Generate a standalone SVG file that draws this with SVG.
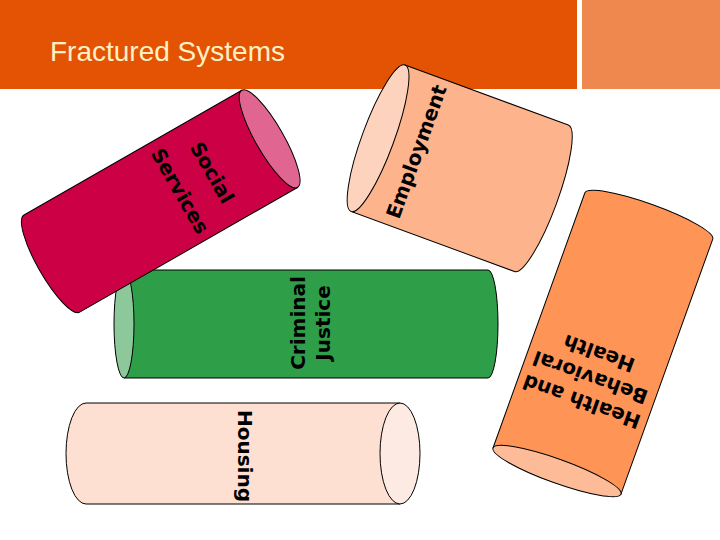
<svg xmlns="http://www.w3.org/2000/svg" width="720" height="540" viewBox="0 0 720 540">
<style>
.s{stroke:#000;stroke-width:1}
.lbl{font-family:"DejaVu Sans","Verdana",sans-serif;font-weight:bold;font-size:20px;fill:#000;text-anchor:middle}
.title{font-family:"Liberation Sans",Arial,sans-serif;font-size:28px;fill:#FDF0C4}
</style>
<rect width="720" height="540" fill="#FFFFFF"/>
<g id="header">
<rect x="0" y="0" width="577" height="89" fill="#E35303"/>
<rect x="582" y="0" width="138" height="89" fill="#EE884E"/>
<text class="title" x="50" y="61">Fractured Systems</text>
</g>
<g id="housing">
<path class="s" d="M400,403 L86,403 A20 50.5 0 0 0 86,504 L400,504 Z" fill="#FDE0D2"/>
<ellipse class="s" cx="400" cy="453.5" rx="20" ry="50.5" fill="#FDEBE3"/>
<text class="lbl" transform="translate(238,456) rotate(90)">Housing</text>
</g>
<g id="criminal-justice">
<path class="s" d="M124,270 L488,270 A10 54 0 0 1 488,378 L124,378 Z" fill="#2E9E48"/>
<ellipse class="s" cx="124" cy="324" rx="10" ry="54" fill="#8DC89A"/>
<text class="lbl" transform="translate(305,323) rotate(-90)"><tspan x="0" y="0">Criminal</tspan><tspan x="0" y="25">Justice</tspan></text>
</g>
<g id="social-services">
<g transform="translate(24,215) rotate(-29.8)">
<path class="s" d="M251,0 L0,0 A14 56 0 0 0 0,112 L251,112 Z" fill="#CC0044"/>
<ellipse class="s" cx="251" cy="56" rx="14" ry="56" fill="#E06590"/>
</g>
<text class="lbl" transform="translate(206,176) rotate(60)"><tspan x="0" y="0">Social</tspan><tspan x="0" y="37">Services</tspan></text>
</g>
<g id="employment">
<g transform="translate(405,65) rotate(20.2)">
<path class="s" d="M0,0 L174,0 A16 78 0 0 1 174,156 L0,156 Z" fill="#FDB38B"/>
<ellipse class="s" cx="0" cy="78" rx="16" ry="78" fill="#FDD3BD"/>
</g>
<text class="lbl" transform="translate(423,154) rotate(-70)">Employment</text>
</g>
<g id="health">
<g transform="translate(493,448) rotate(-70.2)">
<path class="s" d="M0,0 L271,0 A12 68 0 0 1 271,136 L0,136 Z" fill="#FF9457"/>
<ellipse class="s" cx="0" cy="68" rx="12" ry="68" fill="#FDBB97"/>
</g>
<text class="lbl" transform="translate(584,395) rotate(-160.2)"><tspan x="0" y="0">Health and</tspan><tspan x="0" y="25.6">Behavioral</tspan><tspan x="0" y="51.2">Health</tspan></text>
</g>
</svg>
